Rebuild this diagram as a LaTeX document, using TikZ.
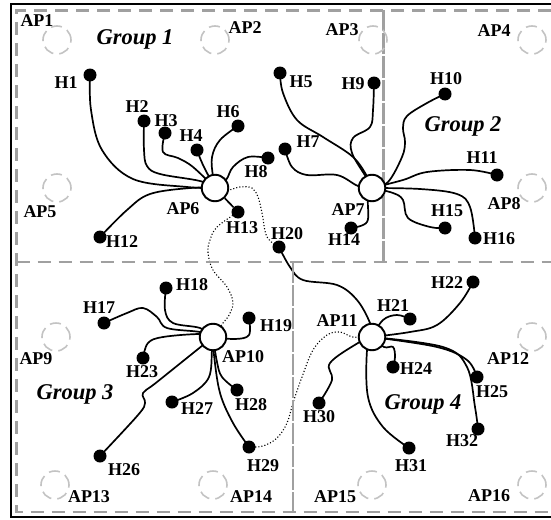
\documentclass[tikz,border=0pt]{standalone}
\usepackage{fontspec}
\setmainfont{Liberation Serif}
\definecolor{gridgray}{RGB}{160,160,160}
\definecolor{faintgray}{RGB}{195,195,195}
\pgfdeclarelayer{bg}
\pgfsetlayers{bg,main}
\begin{document}
\begin{tikzpicture}[x=1pt,y=-1pt,
  host/.style={circle,fill=black,inner sep=0pt,minimum size=13pt},
  apnode/.style={circle,draw=black,line width=1.9pt,fill=white,inner sep=0pt,minimum size=26.5pt},
  fap/.style={circle,draw=faintgray,line width=1.6pt,dash pattern=on 11pt off 6pt,inner sep=0pt,minimum size=28pt},
  lbl/.style={font=\fontsize{18}{18}\selectfont\bfseries,inner sep=0pt},
  grp/.style={font=\fontsize{22.5}{22.5}\selectfont\bfseries\itshape,inner sep=0pt},
  link/.style={line width=1.7pt,smooth,tension=0.6},
  dotlink/.style={line width=1.1pt,dotted,smooth,tension=0.6},
  outer/.style={draw=gridgray,line width=2.6pt,dash pattern=on 13pt off 8pt},
  divider/.style={draw=gridgray,line width=2.6pt,dash pattern=on 21pt off 2pt},
  frame/.style={draw=black,line width=2.6pt}
]
\useasboundingbox (0,0) rectangle (551,519);
% frame and zones
\draw[frame] (551,4) -- (11,4) -- (11,517) -- (551,517);
\draw[outer] (551,10.5) -- (16.5,10.5) -- (16.5,512) -- (551,512);
\draw[outer] (16.5,262) -- (551,262);
\draw[divider] (383.5,10.5) -- (383.5,262);
\draw[divider] (293,262) -- (293,512);

% faint APs
\node[fap] (ap1) at (57,40) {};
\node[fap] (ap2) at (215,40) {};
\node[fap] (ap3) at (373,40) {};
\node[fap] (ap4) at (532,40) {};
\node[fap] (ap5) at (57,188) {};
\node[fap] (ap8) at (532,188) {};
\node[fap] (ap9) at (56,337) {};
\node[fap] (ap12) at (532,337) {};
\node[fap] (ap13) at (55,485) {};
\node[fap] (ap14) at (213,485) {};
\node[fap] (ap15) at (372,485) {};
\node[fap] (ap16) at (532,485) {};

% active APs
\node[apnode] (ap6) at (215,188) {};
\node[apnode] (ap7) at (372,188) {};
\node[apnode] (ap10) at (213,337) {};
\node[apnode] (ap11) at (372,337) {};

% hosts
\node[host] (h1) at (90,75) {};
\node[host] (h2) at (144,121) {};
\node[host] (h3) at (165,133) {};
\node[host] (h4) at (197,150) {};
\node[host] (h5) at (280,73) {};
\node[host] (h6) at (238,126) {};
\node[host] (h7) at (285,149) {};
\node[host] (h8) at (268,158) {};
\node[host] (h9) at (374,83) {};
\node[host] (h10) at (445,94) {};
\node[host] (h11) at (497,175) {};
\node[host] (h12) at (100,237) {};
\node[host] (h13) at (238,212) {};
\node[host] (h14) at (351,228) {};
\node[host] (h15) at (445,228) {};
\node[host] (h16) at (475,238) {};
\node[host] (h17) at (104,323) {};
\node[host] (h18) at (166,288) {};
\node[host] (h19) at (249,318) {};
\node[host] (h20) at (279,247) {};
\node[host] (h21) at (410,319) {};
\node[host] (h22) at (473,282) {};
\node[host] (h23) at (143,358) {};
\node[host] (h24) at (393,367) {};
\node[host] (h25) at (477,377) {};
\node[host] (h26) at (100,456) {};
\node[host] (h27) at (172,402) {};
\node[host] (h28) at (237,390) {};
\node[host] (h29) at (249,447) {};
\node[host] (h30) at (319,403) {};
\node[host] (h31) at (409,448) {};
\node[host] (h32) at (478,429) {};

% AP labels
\node[lbl] (lap1) at (37,21) {AP1};
\node[lbl] (lap2) at (245,28) {AP2};
\node[lbl] (lap3) at (342,30) {AP3};
\node[lbl] (lap4) at (494,31) {AP4};
\node[lbl] (lap5) at (40,212) {AP5};
\node[lbl] (lap6) at (183,209) {AP6};
\node[lbl] (lap7) at (348,210) {AP7};
\node[lbl] (lap8) at (504,204) {AP8};
\node[lbl] (lap9) at (36,359) {AP9};
\node[lbl] (lap10) at (243,357) {AP10};
\node[lbl] (lap11) at (337,321) {AP11};
\node[lbl] (lap12) at (508,359) {AP12};
\node[lbl] (lap13) at (89,497) {AP13};
\node[lbl] (lap14) at (251,497) {AP14};
\node[lbl] (lap15) at (335,497) {AP15};
\node[lbl] (lap16) at (489,496) {AP16};

% host labels
\node[lbl] (lh1) at (66,83) {H1};
\node[lbl] (lh2) at (137,107) {H2};
\node[lbl] (lh3) at (166,121) {H3};
\node[lbl] (lh4) at (191,136) {H4};
\node[lbl] (lh5) at (301,82) {H5};
\node[lbl] (lh6) at (228,112) {H6};
\node[lbl] (lh7) at (308,142) {H7};
\node[lbl] (lh8) at (256,172) {H8};
\node[lbl] (lh9) at (353,84) {H9};
\node[lbl] (lh10) at (446,79) {H10};
\node[lbl] (lh11) at (482,158) {H11};
\node[lbl] (lh12) at (122,242) {H12};
\node[lbl] (lh13) at (242,228) {H13};
\node[lbl] (lh14) at (344,240) {H14};
\node[lbl] (lh15) at (447,211) {H15};
\node[lbl] (lh16) at (499,239) {H16};
\node[lbl] (lh17) at (99,308) {H17};
\node[lbl] (lh18) at (192,285) {H18};
\node[lbl] (lh19) at (276,326) {H19};
\node[lbl] (lh20) at (287,234) {H20};
\node[lbl] (lh21) at (393,306) {H21};
\node[lbl] (lh22) at (447,283) {H22};
\node[lbl] (lh23) at (142,372) {H23};
\node[lbl] (lh24) at (416,369) {H24};
\node[lbl] (lh25) at (492,392) {H25};
\node[lbl] (lh26) at (124,470) {H26};
\node[lbl] (lh27) at (197,409) {H27};
\node[lbl] (lh28) at (251,405) {H28};
\node[lbl] (lh29) at (263,466) {H29};
\node[lbl] (lh30) at (319,417) {H30};
\node[lbl] (lh31) at (411,466) {H31};
\node[lbl] (lh32) at (462,441) {H32};

% group labels
\node[grp] (g1) at (135,39) {Group 1};
\node[grp] (g2) at (463,126) {Group 2};
\node[grp] (g3) at (75,394) {Group 3};
\node[grp] (g4) at (423,404) {Group 4};

\begin{pgfonlayer}{bg}
% group 1
\draw[link] plot coordinates {(h1) (91,110) (102,150) (133,179) (187,187) (ap6)};
\draw[link] plot coordinates {(h2) (144,150) (147,166) (160,174) (200,181) (ap6)};
\draw[link] plot coordinates {(h3) (163,152) (178,158) (193,167) (ap6)};
\draw[link] plot coordinates {(h4) (203,165) (ap6)};
\draw[link] plot coordinates {(h6) (220,140) (212,157) (213,177) (ap6)};
\draw[link] plot coordinates {(h8) (248,157) (233,167) (226,180) (ap6)};
\draw[link] plot coordinates {(h12) (127,210) (150,194) (190,188) (ap6)};
\draw[link] (ap6) -- (h13);
% group 2
\draw[link] plot coordinates {(h5) (283,93) (297,120) (323,137) (353,157) (368,178) (ap7)};
\draw[link] plot coordinates {(h9) (373,110) (370,127) (353,138) (352,153) (366,177) (ap7)};
\draw[link] plot coordinates {(h7) (292,167) (307,175) (337,175) (358,186) (ap7)};
\draw[link] plot coordinates {(h10) (427,103) (407,116) (403,128) (405,142) (402,157) (388,182) (ap7)};
\draw[link] plot coordinates {(h11) (470,170) (427,172) (403,180) (ap7)};
\draw[link] plot coordinates {(h15) (430,227) (408,218) (403,200) (393,193) (ap7)};
\draw[link] plot coordinates {(h16) (470,207) (457,194) (420,189) (ap7)};
\draw[link] plot coordinates {(h14) (367,222) (368,200) (ap7)};
% group 3
\draw[link] plot coordinates {(h18) (165,310) (173,323) (200,328) (ap10)};
\draw[link] plot coordinates {(h17) (127,313) (143,308) (157,317) (167,328) (200,332) (ap10)};
\draw[link] plot coordinates {(h23) (148,343) (163,337) (200,334) (ap10)};
\draw[link] plot coordinates {(h19) (249,335) (235,339) (ap10)};
\draw[link] plot coordinates {(h26) (138,415) (145,403) (143,393) (157,382) (ap10)};
\draw[link] plot coordinates {(h27) (193,393) (209,377) (212,350) (ap10)};
\draw[link] plot coordinates {(h28) (222,377) (217,362) (ap10)};
\draw[link] plot coordinates {(h29) (233,423) (220,393) (214,355) (ap10)};
% group 4
\draw[link] plot coordinates {(h20) (290,267) (303,280) (337,285) (357,300) (370,323) (ap11)};
\draw[link] plot coordinates {(h21) (397,315) (383,320) (ap11)};
\draw[link] plot coordinates {(h22) (460,303) (437,325) (410,332) (ap11)};
\draw[link] plot coordinates {(h24) (395,357) (393,347) (384,347) (ap11)};
\draw[link] plot coordinates {(h25) (467,360) (437,347) (ap11)};
\draw[link] plot coordinates {(h32) (475,407) (467,367) (443,347) (ap11)};
\draw[link] plot coordinates {(h31) (383,427) (368,397) (367,350) (ap11)};
\draw[link] plot coordinates {(h30) (332,380) (330,363) (358,343) (ap11)};
% dotted
\draw[dotlink] plot coordinates {(ap6) (228,190) (240,187) (252,188) (258,197) (262,213) (267,237) (h20)};
\draw[dotlink] plot coordinates {(h13) (217,227) (210,240) (208,253) (213,270) (227,287) (233,303) (228,317) (223,323) (ap10)};
\draw[dotlink] plot coordinates {(h29) (263,446) (277,438) (287,423) (293,403) (302,377) (313,350) (327,335) (340,332) (353,337) (ap11)};
\end{pgfonlayer}
\end{tikzpicture}
\end{document}
